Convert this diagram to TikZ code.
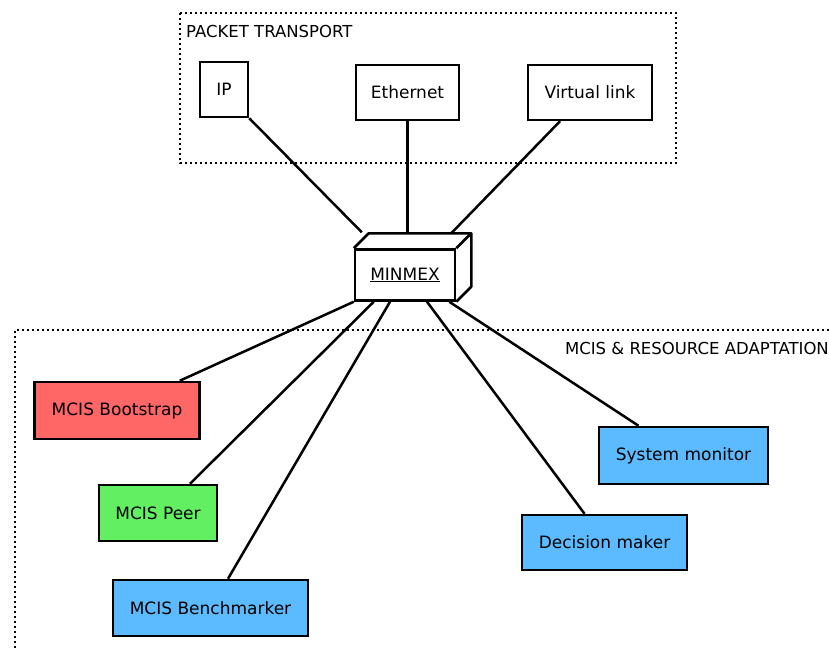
\documentclass[tikz,border=0pt]{standalone}
\usepackage{fontspec}
\setmainfont{DejaVu Sans}
\usepackage{xcolor}
\definecolor{rouge}{HTML}{FF6666}
\definecolor{vert}{HTML}{62F062}
\definecolor{bleu}{HTML}{5CBBFF}
\tikzset{
Boite/.style={
 draw=black, 
 line width=2.5pt, 
 minimum width=#1, 
 minimum height=55pt, 
 inner sep=0pt, 
 font=\fontsize{17}{20}\selectfont
 },
Boite/.default={100pt},
Cadre/.style={
 draw=black, 
 line width=2.4pt, 
 dash pattern=on 2.2pt off 2.8pt
 },
Lien/.style={
 draw=black, 
 line width=2.5pt
 },
Titre/.style={
 inner sep=0pt, 
 font=\fontsize{16.5}{19}\selectfont
 }
}

\begin{document}
\begin{tikzpicture}[x=1pt,y=-1pt]
\useasboundingbox (0,0) rectangle (829,650);
\draw[Cadre] (180,13) rectangle (676,163);
\node[Titre,anchor=west] (transport) at (186,31) {PACKET TRANSPORT};
\draw[Cadre] (829,330) -| (15,650);
\node[Titre,anchor=east] (adaptation) at (829,348) {MCIS \& RESOURCE ADAPTATION};
\node[Boite=48pt] (ip) at (224,89.5) {IP};
\node[Boite=103pt] (ethernet) at (407.5,92.5) {Ethernet};
\node[Boite=124pt] (vlink) at (590,92.5) {Virtual link};
\node[Boite=100pt,minimum height=51pt] (minmex) at (405,275) {\underline{MINMEX}};
\draw[Lien,line join=round] (minmex.north west) -- ++(15,-15) -| ([shift={(15,-15)}]minmex.south east) -- (minmex.south east);
\draw[Lien] (minmex.north east) -- ++(15,-15);
\coordinate (dessus) at ([shift={(0,-15)}]minmex.north);
\node[Boite=165pt,minimum height=57pt,fill=rouge] (boot) at (117,410.5) {MCIS Bootstrap};
\node[Boite=118pt,minimum height=56pt,fill=vert] (peer) at (158,513) {MCIS Peer};
\node[Boite=195pt,minimum height=56pt,fill=bleu] (bench) at (210.5,608) {MCIS Benchmarker};
\node[Boite=169pt,minimum height=57pt,fill=bleu] (sys) at (683.5,455.5) {System monitor};
\node[Boite=165pt,fill=bleu] (dec) at (604.5,542.5) {Decision maker};
\draw[Lien] (ip.south east) -- ([shift={(8,-16)}]minmex.north west);
\draw[Lien] (ethernet.south) -- (ethernet.south |- dessus);
\draw[Lien] ([xshift=-30pt]vlink.south) -- ([shift={(-5,-15)}]minmex.north east);
\draw[Lien] ([xshift=-21pt]boot.north east) -- (minmex.south west);
\draw[Lien] ([xshift=32pt]peer.north) -- ([xshift=20pt]minmex.south west);
\draw[Lien] ([xshift=17.5pt]bench.north) -- ([xshift=-15pt]minmex.south);
\draw[Lien] ([xshift=-20pt]dec.north) -- ([xshift=22pt]minmex.south);
\draw[Lien] ([xshift=-45pt]sys.north) -- ([xshift=-7pt]minmex.south east);
\end{tikzpicture}
\end{document}
